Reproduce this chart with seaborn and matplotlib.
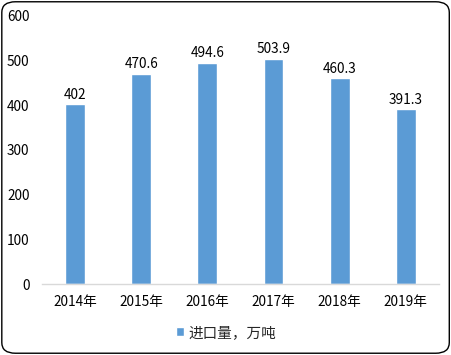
import pandas as pd
import seaborn as sns
import matplotlib.pyplot as plt
from matplotlib.patches import FancyBboxPatch

sns.set_style("white")
plt.rcParams['font.family'] = ['Noto Sans CJK SC', 'DejaVu Sans']

years = ['2014年', '2015年', '2016年', '2017年', '2018年', '2019年']
imports = [402, 470.6, 494.6, 503.9, 460.3, 391.3]
value_labels = ['402', '470.6', '494.6', '503.9', '460.3', '391.3']
series_name = '进口量，万吨'

df = pd.DataFrame({'year': years, 'value': imports})

fig = plt.figure(figsize=(4.52, 3.55), dpi=100)
ax = fig.add_axes([0.093, 0.2, 0.878, 0.755])

sns.barplot(data=df, x='year', y='value', color='#5B9BD5', width=0.3,
            saturation=1, label=series_name, ax=ax)

for i, (v, t) in enumerate(zip(imports, value_labels)):
    ax.text(i, v + 6, t, ha='center', va='bottom', fontsize=9.8, color='#000000')

ax.set_ylim(0, 600)
ax.set_yticks(range(0, 601, 100))
ax.set_xlim(-0.5, 5.5)
ax.set_xlabel('')
ax.set_ylabel('')
ax.tick_params(axis='both', length=0, labelsize=9.8, colors='#000000')
ax.tick_params(axis='y', pad=9)
ax.tick_params(axis='x', pad=8)
for s in ['top', 'right', 'left']:
    ax.spines[s].set_visible(False)
ax.spines['bottom'].set_color('#D9D9D9')
ax.spines['bottom'].set_linewidth(1)

if ax.legend_:
    ax.legend_.remove()
handles, labels = ax.get_legend_handles_labels()
fig.legend(handles, labels, loc='center', bbox_to_anchor=(0.5, 0.062),
           frameon=False, fontsize=10.5, handlelength=0.6, handleheight=0.6,
           handletextpad=0.3)

border = FancyBboxPatch((0.004, 0.005), 0.99, 0.99, boxstyle='round,pad=0,rounding_size=0.03',
                        transform=fig.transFigure, fill=False, edgecolor='#000000',
                        linewidth=1)
fig.patches.append(border)

fig.savefig('out.png', dpi=100)
